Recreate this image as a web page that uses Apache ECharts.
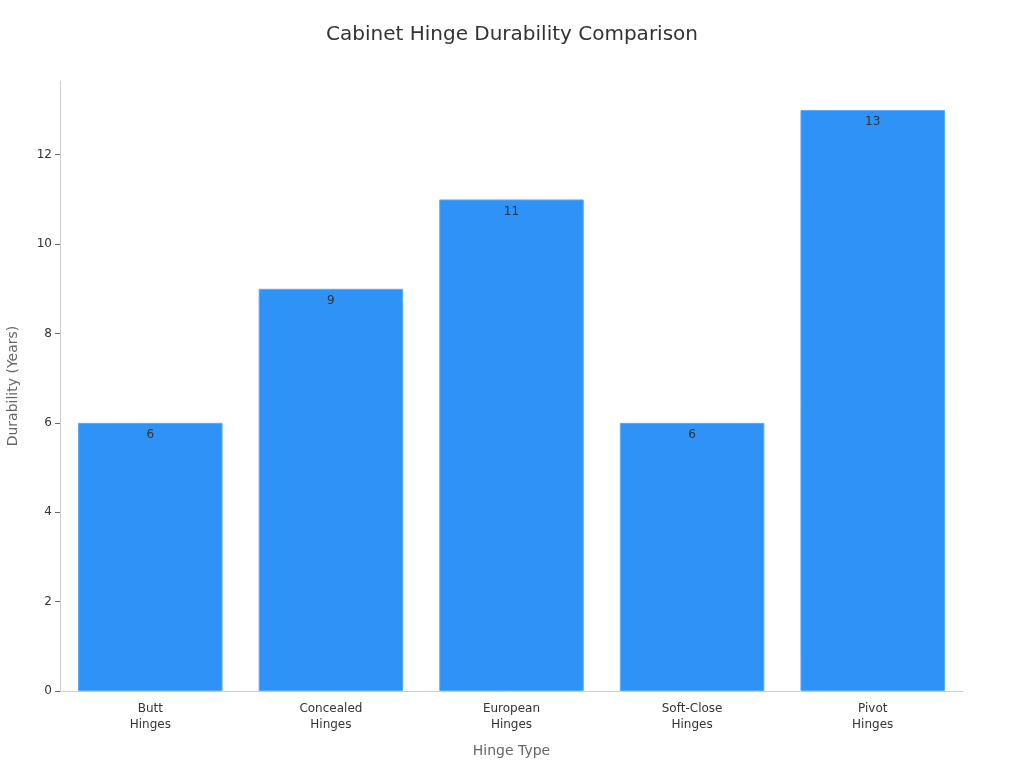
<!DOCTYPE html>
<html><head><meta charset="utf-8">
<script src="https://cdn.jsdelivr.net/npm/echarts@6/dist/echarts.min.js"></script>
<style>html,body{margin:0;padding:0;background:#fff}#c{width:1024px;height:768px}</style>
</head><body><div id="c"></div>
<script>
const categories = ["Butt\nHinges", "Concealed\nHinges", "European\nHinges", "Soft-Close\nHinges", "Pivot\nHinges"];
const durability = [6, 9, 11, 6, 13];
const F = 'DejaVu Sans';
const chart = echarts.init(document.getElementById('c'));
chart.setOption({
  backgroundColor: '#fff',
  title: { text: 'Cabinet Hinge Durability Comparison', left: 'center', top: 20,
    textStyle: { fontFamily: F, fontSize: 20, fontWeight: 'normal', color: '#333' } },
  grid: { left: 60, right: 61, top: 81, bottom: 77, outerBoundsMode: 'none', containLabel: false },
  xAxis: { type: 'category', data: categories, name: 'Hinge Type', nameLocation: 'middle', nameGap: 53,
    nameTextStyle: { fontFamily: F, fontSize: 14, color: '#666' },
    axisLine: { lineStyle: { color: '#ccc' } },
    axisTick: { alignWithLabel: true, lineStyle: { color: '#666' } },
    axisLabel: { fontFamily: F, fontSize: 12, color: '#333', lineHeight: 16, margin: 10 } },
  yAxis: { type: 'value', min: 0, max: 13.65, interval: 2, name: 'Durability (Years)', nameLocation: 'middle', nameGap: 40,
    nameTextStyle: { fontFamily: F, fontSize: 14, color: '#666' },
    axisLine: { show: true, lineStyle: { color: '#ccc' } },
    axisTick: { show: true, lineStyle: { color: '#666' } },
    splitLine: { show: false },
    axisLabel: { fontFamily: F, fontSize: 12, color: '#333', showMaxLabel: false } },
  series: [{ type: 'bar', data: durability, barWidth: '80%',
    itemStyle: { color: '#2F92F7', borderColor: '#5aa9f8', borderWidth: 1 },
    label: { show: true, position: 'insideTop', distance: 6, color: '#333', fontFamily: F, fontSize: 12 } }]
});
</script></body></html>
